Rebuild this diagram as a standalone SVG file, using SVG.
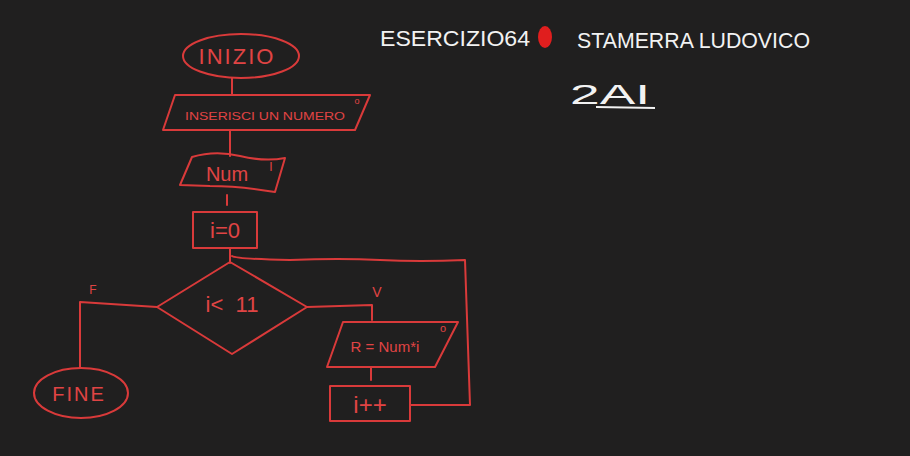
<svg xmlns="http://www.w3.org/2000/svg" width="910" height="456" viewBox="0 0 910 456">
<style>
.s{fill:none;stroke:#d93a3a;stroke-width:2;stroke-linejoin:round;stroke-linecap:round}
.t{fill:#e04444;font-family:"Liberation Sans","DejaVu Sans",sans-serif;text-anchor:middle}
.w{fill:#f2f2f2;font-family:"Liberation Sans","DejaVu Sans",sans-serif}
</style>
<rect width="910" height="456" fill="#201f1f"/>
<g id="title">
<text class="w" x="380" y="46" font-size="22" textLength="150" lengthAdjust="spacingAndGlyphs">ESERCIZIO64</text>
<ellipse cx="545" cy="37" rx="7" ry="11" fill="#e01e1e"/>
<text class="w" x="577" y="48" font-size="22" textLength="233" lengthAdjust="spacingAndGlyphs">STAMERRA LUDOVICO</text>
<text class="w" x="570" y="104" font-size="28" textLength="80" lengthAdjust="spacingAndGlyphs">2AI</text>
<line x1="596" y1="107" x2="655" y2="108" stroke="#f2f2f2" stroke-width="2"/>
</g>
<g id="connectors">
<path class="s" d="M232 78 L232 95"/>
<path class="s" d="M230 130 L230 156"/>
<path class="s" d="M227 195 L227 205"/>
<path class="s" d="M230 248 L230 263"/>
<path class="s" d="M232 256 Q236 259 290 260 Q340 258 380 260 T465 260 L470 405 L410 405"/>
<path class="s" d="M157 307 L80 302 L80 368"/>
<path class="s" d="M307 307 L372 305 L372 320"/>
<path class="s" d="M371 367 L371 380"/>
<text class="t" x="93" y="294" font-size="12">F</text>
<text class="t" x="377" y="297" font-size="14">V</text>
</g>
<g id="inizio">
<ellipse class="s" cx="241" cy="56" rx="58" ry="22"/>
<text class="t" x="237" y="64" font-size="22" letter-spacing="2">INIZIO</text>
</g>
<g id="inserisci">
<polygon class="s" points="175,95 370,95 355,130 163,130"/>
<text class="t" x="265" y="120" font-size="11.5" textLength="160" lengthAdjust="spacingAndGlyphs">INSERISCI UN NUMERO</text>
<text class="t" x="357" y="104" font-size="9">o</text>
</g>
<g id="num">
<path class="s" d="M192 157 Q215 150 240 156 T285 158 L275 192 Q240 186 210 186 L180 185 Z"/>
<text class="t" x="227" y="181" font-size="20">Num</text>
<text class="t" x="271" y="171" font-size="12">I</text>
</g>
<g id="i0">
<rect class="s" x="193" y="212" width="64" height="36"/>
<text class="t" x="225" y="238" font-size="22">i=0</text>
</g>
<g id="cond">
<polygon class="s" points="230,262 307,307 232,354 157,307"/>
<text class="t" x="232" y="312" font-size="22" xml:space="preserve">i&lt;  11</text>
</g>
<g id="calc">
<polygon class="s" points="343,322 458,322 435,367 327,367"/>
<text class="t" x="385" y="352" font-size="15">R = Num*i</text>
<text class="t" x="443" y="332" font-size="11">o</text>
</g>
<g id="incr">
<rect class="s" x="330" y="386" width="80" height="35"/>
<text class="t" x="370" y="413" font-size="24">i++</text>
</g>
<g id="fine">
<ellipse class="s" cx="81" cy="393" rx="47" ry="25"/>
<text class="t" x="79" y="401" font-size="20" letter-spacing="2">FINE</text>
</g>
</svg>
